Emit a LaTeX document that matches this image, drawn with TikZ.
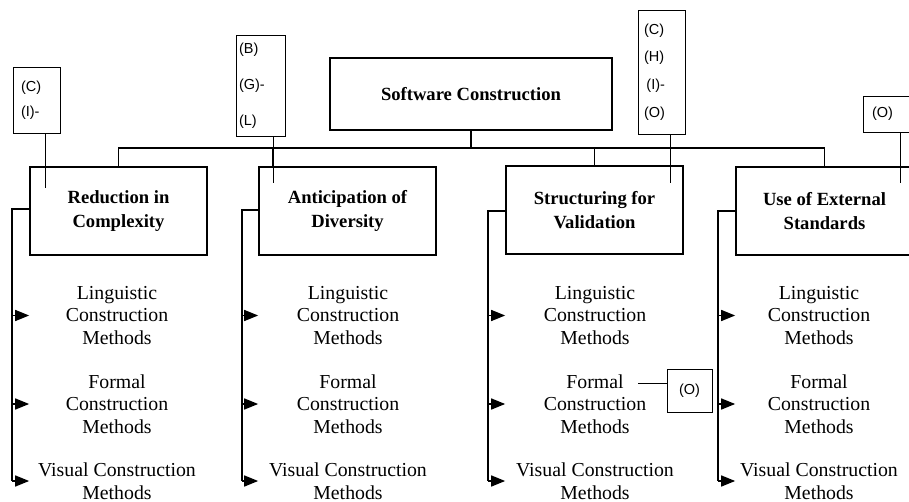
\documentclass[tikz,border=0pt]{standalone}
\usepackage{fontspec}
\setmainfont{Liberation Serif}
\newfontfamily\annfont{Liberation Sans}
\usetikzlibrary{arrows.meta}

\begin{document}
\begin{tikzpicture}[x=1pt,y=-1pt,
  rootbox/.style={draw, line width=1.7pt, minimum width=282pt, minimum height=72pt,
    inner sep=0pt, font=\fontsize{18.6}{24}\selectfont\bfseries},
  title/.style={draw, line width=1.7pt, minimum width=177pt, minimum height=88pt,
    inner sep=0pt, align=center, font=\fontsize{18.6}{24}\selectfont\bfseries},
  meth/.style={inner sep=0pt, align=center, font=\fontsize{19.8}{22.5}\selectfont},
  note/.style={draw, line width=0.7pt, inner ysep=0pt, align=left},
  bus/.style={line width=1.6pt},
  rail/.style={line width=1.5pt},
  arr/.style={line width=1.5pt, -{Triangle[length=14pt,width=11pt]}},
  noteline/.style={line width=0.8pt}]
\useasboundingbox (0,0) rectangle (909,502);
\clip (0,0) rectangle (909,502);

% root and the four principles
\node[rootbox] (root) at (471,94) {Software Construction};
\node[title] (b1) at (118.5,211) {Reduction in\\Complexity};
\node[title] (b2) at (347.5,211) {Anticipation of\\Diversity};
\node[title] (b3) at (594.5,210) {Structuring for\\Validation};
\node[title] (b4) at (824.5,211) {Use of External\\Standards};

% tree bus
\coordinate (bus) at (0,148);
\coordinate (d2) at (273,148);
\draw[bus] (root.south) -- (root.south |- bus);
\draw[bus] (b1.north) -- (b1.north |- bus) -- (b4.north |- bus) -- (b4.north);
\draw[bus] (b3.north |- bus) -- (b3.north);
\draw[bus] (d2) -- (d2 |- b2.north);

% reference notes
\node[note, inner xsep=8pt, text width=31pt, minimum height=66pt,
  font=\annfont\fontsize{14.5}{25}\selectfont] (n1) at (36.5,100) {(C)\\(I)-};
\node[note, inner xsep=3pt, text width=43pt, minimum height=101pt,
  font=\annfont\fontsize{14.5}{36}\selectfont] (n2) at (260.5,85.5) {(B)\\(G)-\\(L)};
\node[note, inner xsep=6pt, text width=35pt, minimum height=124pt,
  font=\annfont\fontsize{14.5}{27.7}\selectfont] (n3) at (661.5,72) {(C)\\(H)\\\,(I)-\\(O)};
\node[note, inner xsep=9pt, text width=29pt, minimum height=36pt,
  font=\annfont\fontsize{14.5}{18}\selectfont] (n4) at (886.5,114) {(O)};
\node[note, inner xsep=0pt, minimum width=45pt, minimum height=43pt, align=center,
  font=\annfont\fontsize{14.5}{18}\selectfont] (n5) at (689.5,390.5) {(O)};

\coordinate (e1) at (45,188);
\coordinate (e2) at (273,183);
\coordinate (e3) at (670,183);
\coordinate (e4) at (900,183);
\coordinate (fo) at (638,383);
\draw[noteline] (e1 |- n1.south) -- (e1);
\draw[noteline] (e2 |- n2.south) -- (e2);
\draw[noteline] (e3 |- n3.south) -- (e3);
\draw[noteline] (e4 |- n4.south) -- (e4);
\draw[noteline] (fo) -- (fo -| n5.west);

% construction methods under each principle
\foreach \i/\tx/\rx/\ry in {1/117/12/209, 2/348/242/210, 3/595/488/211, 4/819/718/211} {
  \node[meth] (l\i) at (\tx,315.5) {Linguistic\\Construction\\Methods};
  \node[meth] (f\i) at (\tx,404) {Formal\\Construction\\Methods};
  \node[meth] (v\i) at (\tx,481) {Visual Construction\\Methods};
  \coordinate (r\i) at (\rx,\ry);
  \draw[rail] (b\i.west |- r\i) -- (r\i) -- (r\i |- v\i);
  \draw[arr] (r\i |- v\i) -- (b\i.west |- v\i);
  \draw[arr] (r\i |- l\i) -- (b\i.west |- l\i);
  \draw[arr] (r\i |- f\i) -- (b\i.west |- f\i);
}
\end{tikzpicture}
\end{document}
